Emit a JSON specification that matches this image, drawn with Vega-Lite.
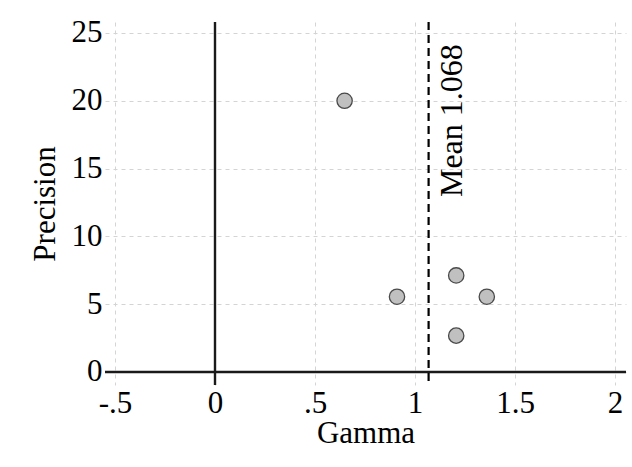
{
  "$schema": "https://vega.github.io/schema/vega-lite/v6.json",
  "autosize": {"type": "none"},
  "padding": {"left": 105, "top": 22, "right": 6, "bottom": 82},
  "width": 521,
  "height": 363,
  "background": "white",
  "config": {
    "view": {"stroke": null},
    "font": "'Times New Roman', 'Liberation Serif', serif",
    "axis": {
      "labelFont": "'Times New Roman', 'Liberation Serif', serif",
      "titleFont": "'Times New Roman', 'Liberation Serif', serif",
      "labelFontSize": 31,
      "titleFontSize": 31,
      "titleFontWeight": "normal",
      "labelColor": "#000",
      "titleColor": "#000",
      "domain": false,
      "ticks": false,
      "grid": true,
      "gridColor": "#d4d4d4",
      "gridDash": [4, 4],
      "gridWidth": 1
    }
  },
  "datasets": {
    "studies": [
      {"gamma": 0.648, "precision": 20.0},
      {"gamma": 0.910, "precision": 5.55},
      {"gamma": 1.206, "precision": 7.12},
      {"gamma": 1.359, "precision": 5.55},
      {"gamma": 1.206, "precision": 2.68}
    ],
    "refs": [{"zero": 0, "mean": 1.068, "label": "Mean 1.068", "labelpos": 12.9}]
  },
  "layer": [
    {
      "data": {"name": "refs"},
      "mark": {"type": "rule", "color": "#1a1a1a", "strokeWidth": 2.4},
      "encoding": {"y": {"field": "zero", "type": "quantitative", "scale": {"domain": [-0.96, 25.81], "nice": false, "zero": false}}}
    },
    {
      "data": {"name": "refs"},
      "mark": {"type": "rule", "color": "#1a1a1a", "strokeWidth": 2.4},
      "encoding": {"x": {"field": "zero", "type": "quantitative"}}
    },
    {
      "data": {"name": "refs"},
      "mark": {"type": "rule", "color": "#000", "strokeWidth": 2.2, "strokeDash": [8, 5]},
      "encoding": {"x": {"field": "mean", "type": "quantitative"}}
    },
    {
      "data": {"name": "refs"},
      "mark": {"type": "text", "angle": 270, "align": "left", "baseline": "alphabetic", "dy": 33, "fontSize": 32, "color": "#000", "font": "'Times New Roman', 'Liberation Serif', serif"},
      "encoding": {
        "x": {"field": "mean", "type": "quantitative"},
        "y": {"field": "labelpos", "type": "quantitative"},
        "text": {"field": "label"}
      }
    },
    {
      "data": {"name": "studies"},
      "mark": {"type": "point", "shape": "circle", "filled": true, "size": 235, "fill": "#c0c0c0", "stroke": "#4a4a4a", "strokeWidth": 1.3, "opacity": 1},
      "encoding": {
        "x": {
          "field": "gamma", "type": "quantitative", "title": "Gamma",
          "scale": {"domain": [-0.55, 2.055], "nice": false, "zero": false},
          "axis": {"values": [-0.5, 0, 0.5, 1, 1.5, 2], "labelPadding": 3, "titlePadding": 0,
                   "labelExpr": "datum.value == 0 ? '0' : replace(toString(datum.value), '0.', '.')"}
        },
        "y": {
          "field": "precision", "type": "quantitative", "title": "Precision",
          "scale": {"domain": [-0.96, 25.81], "nice": false, "zero": false},
          "axis": {"values": [0, 5, 10, 15, 20, 25], "labelPadding": 3, "titlePadding": 10}
        }
      }
    }
  ]
}
